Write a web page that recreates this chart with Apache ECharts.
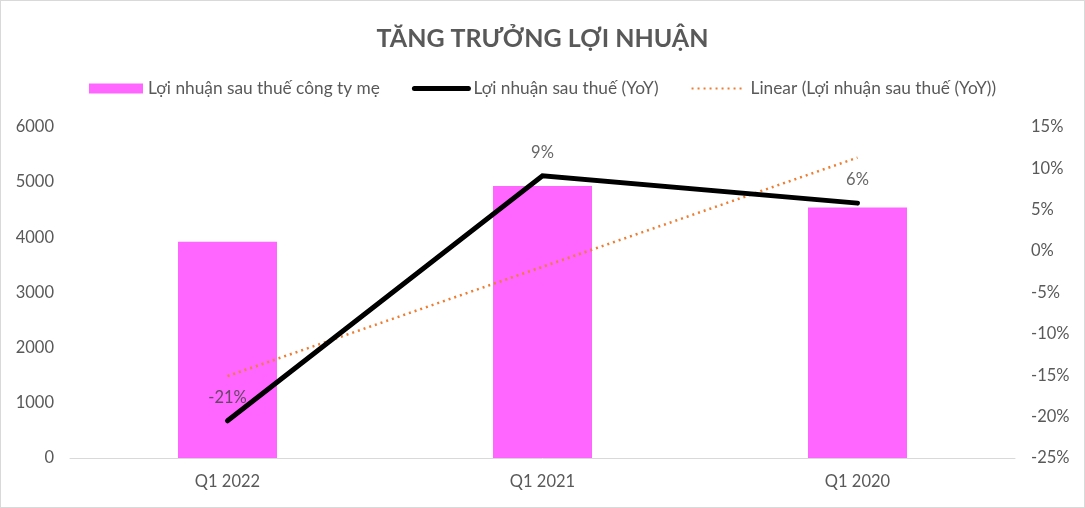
<!DOCTYPE html>
<html><head><meta charset="utf-8">
<script src="https://cdn.jsdelivr.net/npm/echarts@6/dist/echarts.min.js"></script>
<style>html,body{margin:0;padding:0;background:#fff}#c{width:1085px;height:508px;box-sizing:border-box;border:1px solid #d9d9d9}</style>
</head><body><div id="c"></div>
<script>
const categories = ["Q1 2022", "Q1 2021", "Q1 2020"];
const profit = [3920, 4930, 4540];
const yoy = [-20.5, 9.1, 5.8];
const yoyLabels = ["-21%", "9%", "6%"];
const trend = [-15.1, -1.9, 11.3];
const leftTicks = [0, 6000, 1000];
const rightTicks = [-25, 15, 5];

const font = 'Lato, "Open Sans", sans-serif';
const chart = echarts.init(document.getElementById('c'));
chart.setOption({
  animation: false,
  textStyle: {fontFamily: font},
  title: {text: 'TĂNG TRƯỞNG LỢI NHUẬN', left: 'center', top: 20,
    textStyle: {fontFamily: font, fontSize: 25, fontWeight: 'bold', color: '#595959'}},
  legend: {top: 74, left: 'center', itemGap: 32, itemWidth: 54, itemHeight: 10,
    textStyle: {fontFamily: font, fontSize: 17.3, color: '#595959'},
    data: [
      {name: 'Lợi nhuận sau thuế công ty mẹ', icon: 'rect'},
      {name: 'Lợi nhuận sau thuế (YoY)', itemStyle: {opacity: 0}, lineStyle: {width: 5}},
      {name: 'Linear (Lợi nhuận sau thuế (YoY))', itemStyle: {opacity: 0}}
    ]},
  grid: {left: 69, right: 69, top: 126, bottom: 49},
  xAxis: {type: 'category', data: categories,
    axisLine: {lineStyle: {color: '#d9d9d9', width: 1}}, axisTick: {show: false},
    axisLabel: {fontFamily: font, fontSize: 16.5, color: '#595959', margin: 15}},
  yAxis: [
    {type: 'value', min: leftTicks[0], max: leftTicks[1], interval: leftTicks[2],
      splitLine: {show: false}, axisLine: {show: false}, axisTick: {show: false},
      axisLabel: {fontFamily: font, fontSize: 16.5, color: '#595959', margin: 16, formatter: v => String(v)}},
    {type: 'value', min: rightTicks[0], max: rightTicks[1], interval: rightTicks[2],
      splitLine: {show: false}, axisLine: {show: false}, axisTick: {show: false},
      axisLabel: {fontFamily: font, fontSize: 16.5, color: '#595959', margin: 16, formatter: '{value}%'}}
  ],
  series: [
    {name: 'Lợi nhuận sau thuế công ty mẹ', type: 'bar', data: profit, barWidth: 99,
      itemStyle: {color: '#FF66FF'}},
    {name: 'Lợi nhuận sau thuế (YoY)', type: 'line', yAxisIndex: 1, data: yoy,
      symbol: 'none', lineStyle: {color: '#000', width: 5, cap: 'round', join: 'miter'},
      itemStyle: {color: '#000'}, z: 3},
    {name: 'Linear (Lợi nhuận sau thuế (YoY))', type: 'line', yAxisIndex: 1, data: trend,
      symbol: 'none', lineStyle: {color: '#ED7D31', width: 2.5, type: [2, 4]},
      itemStyle: {color: '#ED7D31'}, z: 2},
    {name: 'labels', type: 'scatter', yAxisIndex: 1, data: yoy, symbolSize: 0, silent: true, z: 5,
      label: {show: true, position: 'top', distance: 15, fontFamily: font, fontSize: 16.5, color: '#404040',
        formatter: p => yoyLabels[p.dataIndex]}}
  ]
});
</script></body></html>
